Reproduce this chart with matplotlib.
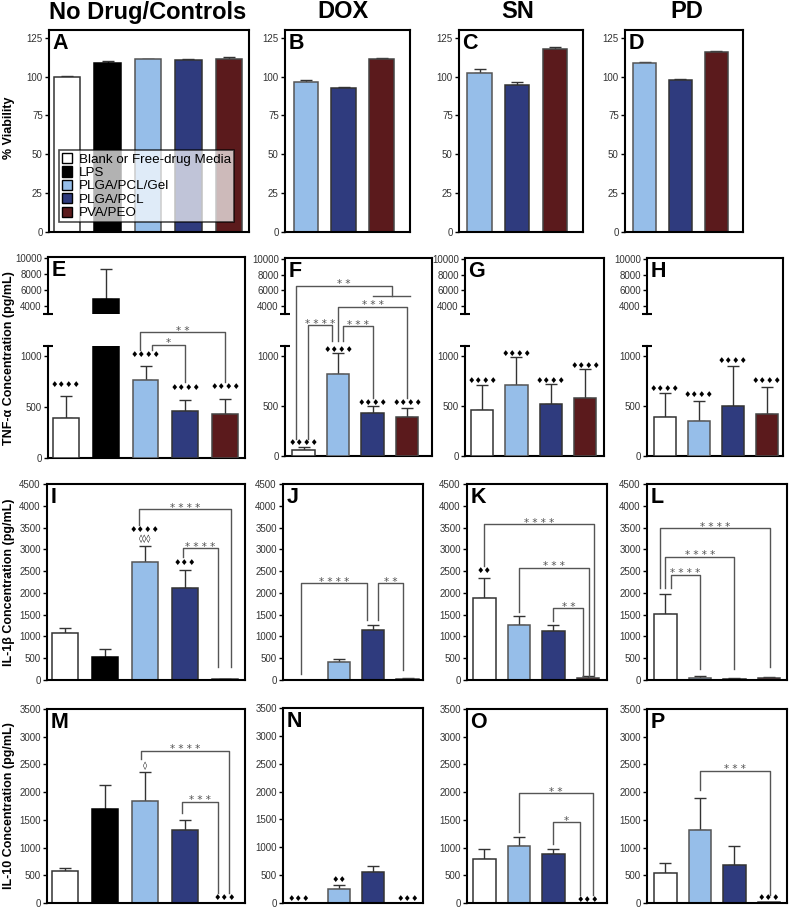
import numpy as np
import matplotlib.pyplot as plt
from matplotlib.patches import Patch

plt.rcParams['font.family'] = ['Liberation Sans', 'DejaVu Sans']

# groups and colours
names = ["Blank or Free-drug Media", "LPS", "PLGA/PCL/Gel", "PLGA/PCL", "PVA/PEO"]
fill = {"Blank": "#ffffff", "LPS": "#000000", "Gel": "#96bee9", "PCL": "#2f3b7e", "PVA": "#5b1a1c"}
edge = {"Blank": "#333333", "LPS": "#000000", "Gel": "#555555", "PCL": "#333333", "PVA": "#444444"}
ctrl_groups = ["Blank", "LPS", "Gel", "PCL", "PVA"]
drug_groups = ["Blank", "Gel", "PCL", "PVA"]
via_groups = ["Gel", "PCL", "PVA"]

# % viability
viab_ctrl = [100.0, 109.0, 111.2, 110.7, 111.2]
viab_ctrl_err = [0.4, 0.9, 0.4, 0.7, 1.2]
viab_dox = [96.8, 92.5, 111.4]
viab_dox_err = [1.3, 0.8, 0.6]
viab_sn = [102.4, 94.6, 117.8]
viab_sn_err = [2.8, 2.2, 1.1]
viab_pd = [109.0, 98.1, 116.1]
viab_pd_err = [0.7, 0.6, 0.6]

# TNF-a (pg/mL)
tnf_ctrl = [389, 4875, 771, 464, 428]
tnf_ctrl_err = [222, 3790, 134, 105, 150]
tnf_dox = [60, 822, 433, 386]
tnf_dox_err = [34, 205, 64, 97]
tnf_sn = [460, 711, 520, 574]
tnf_sn_err = [245, 272, 201, 295]
tnf_pd = [389, 349, 497, 419]
tnf_pd_err = [235, 198, 399, 266]

# IL-1b (pg/mL)
il1b_ctrl = [1087, 517, 2698, 2120, 15]
il1b_ctrl_err = [113, 197, 387, 410, 8]
il1b_dox = [0, 410, 1155, 20]
il1b_dox_err = [0, 80, 105, 15]
il1b_sn = [1890, 1265, 1134, 46]
il1b_sn_err = [448, 201, 131, 39]
il1b_pd = [1505, 46, 30, 46]
il1b_pd_err = [463, 39, 16, 31]

# IL-10 (pg/mL)
il10_ctrl = [573, 1690, 1840, 1308, 0]
il10_ctrl_err = [60, 437, 520, 197, 0]
il10_dox = [0, 260, 550, 0]
il10_dox_err = [0, 60, 110, 0]
il10_sn = [795, 1024, 892, 0]
il10_sn_err = [181, 163, 90, 0]
il10_pd = [536, 1325, 693, 20]
il10_pd_err = [181, 573, 331, 0]

D4, D3, D2, D1, O3, O1 = "♦♦♦♦", "♦♦♦", "♦♦", "♦", "◊◊◊", "◊"

# symbols above bars: (x, text, y)
marks = {
    "E": [(0, D4, 722), (2, D4, 1016), (3, D4, 696), (4, D4, 703)],
    "F": [(0, D4, 138), (1, D4, 1067), (2, D4, 537), (3, D4, 537)],
    "G": [(0, D4, 752), (1, D4, 1020), (2, D4, 758), (3, D4, 906)],
    "H": [(0, D4, 671), (1, D4, 611), (2, D4, 956), (3, D4, 758)],
    "I": [(2, D4, 3450), (2, O3, 3255), (3, D3, 2705)],
    "K": [(0, D2, 2515)],
    "M": [(2, O1, 2473), (4, D3, 96)],
    "N": [(-0.15, D3, 78), (1, D2, 430), (3, D3, 78)],
    "O": [(3, D3, 60)],
    "P": [(3, D3, 96)],
}

# significance brackets: (x left, y left, x right, y right, y top, label)
brackets = {
    "E": [(1.85, 1059, 4, 748, 1235, "**"), (2.17, 1059, 3, 748, 1114, "*")],
    "F": [(-0.21, 171, 2.55, 5300, 6610, "**"), (1, 1144, 3, 574, 3913, "***"),
          (0.13, 171, 0.83, 1144, 1305, "****"), (1.13, 1144, 2, 574, 1292, "***")],
    "I": [(1.86, 3564, 4.14, 296, 3921, "****"), (2.95, 2827, 3.83, 296, 3024, "****")],
    "J": [(-0.1, 140, 1.82, 1373, 2222, "****"), (2.14, 1373, 2.86, 230, 2222, "**")],
    "K": [(0, 2608, 3.17, 77, 3572, "****"), (1, 1566, 3.03, 77, 2577, "***"),
          (2, 1358, 2.87, 77, 1651, "**")],
    "L": [(-0.15, 2107, 3.02, 293, 3480, "****"), (0, 2107, 2, 255, 2824, "****"),
          (0.15, 2107, 1, 255, 2415, "****")],
    "M": [(1.91, 2604, 4.11, 185, 2742, "****"), (2.93, 1619, 3.83, 185, 1828, "***")],
    "O": [(1, 1277, 3.15, 150, 1982, "**"), (2, 1066, 2.76, 150, 1458, "*")],
    "P": [(1, 2030, 3.02, 150, 2386, "***")],
}
group_lines = {"F": [(2.0, 3.08, 5300)]}

W, H = 789, 910
fig = plt.figure(figsize=(W / 100, H / 100), dpi=100)


def add_ax(l, t, r, b):
    return fig.add_axes([l / W, 1 - b / H, (r - l) / W, (b - t) / H])


def style(ax, spines=("left", "bottom", "top", "right")):
    for s in ax.spines:
        ax.spines[s].set_visible(s in spines)
        ax.spines[s].set_linewidth(1.5)
    ax.set_xticks([])
    ax.tick_params(axis="y", labelsize=7, labelcolor="#333333", length=3, width=1, pad=1.5)


def draw_bars(ax, vals, errs, groups):
    x = np.arange(len(vals))
    ax.bar(x, vals, width=0.65, color=[fill[g] for g in groups],
           edgecolor=[edge[g] for g in groups], linewidth=1.1, zorder=2)
    e = np.array(errs, float)
    v = np.array(vals, float)
    m = e > 0
    ax.errorbar(x[m], v[m], yerr=[np.zeros(m.sum()), e[m]], fmt="none", ecolor="#333333",
                elinewidth=1, capsize=4.5, capthick=1, zorder=1)


def letter(ax, s):
    ax.annotate(s, (0, 1), xycoords="axes fraction", xytext=(2.5, -2.5), textcoords="offset points",
                ha="left", va="top", fontsize=15.5, fontweight="bold")


def annotate(ax, key, conv):
    for x, s, y in marks.get(key, []):
        ax.text(x, conv(y), s, ha="center", va="center", fontsize=6, color="k",
                family="DejaVu Sans", clip_on=False)
    for xl, yl, xr, yr, top, lab in brackets.get(key, []):
        ax.plot([xl, xl, xr, xr], [conv(yl), conv(top), conv(top), conv(yr)],
                color="#555555", lw=1, clip_on=False, zorder=5)
        ax.annotate(" ".join(lab), ((xl + xr) / 2, conv(top)), xytext=(0, -2.5),
                    textcoords="offset points", ha="center", va="bottom", fontsize=7.5,
                    family="DejaVu Sans", color="#555555", annotation_clip=False)
    for x1, x2, y in group_lines.get(key, []):
        ax.plot([x1, x2], [conv(y), conv(y)], color="#555555", lw=1, clip_on=False, zorder=5)


def simple_panel(rect, key, vals, errs, groups, ylim, ticks, xlim):
    ax = add_ax(*rect)
    style(ax)
    draw_bars(ax, vals, errs, groups)
    ax.set_ylim(*ylim)
    ax.set_yticks(ticks)
    ax.set_xlim(*xlim)
    letter(ax, key)
    annotate(ax, key, lambda v: v)
    return ax


def tnf_panel(rect, key, vals, errs, groups, xlim):
    l, t, r, b = rect
    h = b - t
    frame = add_ax(l, t, r, b)
    style(frame, ("top", "right", "bottom"))
    frame.set_yticks([])
    hi = add_ax(l, t, r, t + 0.284 * h)
    lo = add_ax(l, b - 0.557 * h, r, b)
    for ax, lim, ticks in [(hi, (3000, 10100), [4000, 6000, 8000, 10000]),
                           (lo, (0, 1100), [0, 500, 1000])]:
        ax.patch.set_visible(False)
        style(ax, ("left",))
        draw_bars(ax, vals, errs, groups)
        ax.set_ylim(*lim)
        ax.set_yticks(ticks)
        ax.set_xlim(*xlim)
    lo.plot([0], [1], marker="_", ms=7, mew=1.5, color="k", transform=lo.transAxes, clip_on=False)
    hi.plot([0], [0], marker="_", ms=7, mew=1.5, color="k", transform=hi.transAxes, clip_on=False)
    letter(frame, key)

    def conv(v):
        if v < 3000:
            return v
        d = hi.transData.transform((0, v))
        return lo.transData.inverted().transform(d)[1]

    annotate(lo, key, conv)


# row 1: viability
a = simple_panel((49, 30, 249, 232), "A", viab_ctrl, viab_ctrl_err, ctrl_groups,
                 (0, 130), range(0, 126, 25), (-0.45, 4.5))
leg = a.legend(handles=[Patch(facecolor=fill[g], edgecolor="k", lw=1) for g in ctrl_groups],
               labels=names, loc="lower left", bbox_to_anchor=(0.05, 0.05), borderaxespad=0,
               fontsize=9.6, fancybox=False, edgecolor="k", framealpha=0.7, borderpad=0.2,
               labelspacing=0.05, handlelength=0.8, handleheight=0.8, handletextpad=0.5)
leg.get_frame().set_linewidth(1.2)
simple_panel((285, 30, 410, 232), "B", viab_dox, viab_dox_err, via_groups,
             (0, 130), range(0, 126, 25), (-0.55, 2.75))
simple_panel((459, 30, 583, 232), "C", viab_sn, viab_sn_err, via_groups,
             (0, 130), range(0, 126, 25), (-0.55, 2.75))
simple_panel((625, 30, 743, 232), "D", viab_pd, viab_pd_err, via_groups,
             (0, 130), range(0, 126, 25), (-0.55, 2.75))

# row 2: TNF-a with broken axis
tnf_panel((48, 257, 245, 458), "E", tnf_ctrl, tnf_ctrl_err, ctrl_groups, (-0.45, 4.5))
tnf_panel((285, 258, 432, 456), "F", tnf_dox, tnf_dox_err, drug_groups, (-0.54, 3.72))
tnf_panel((465, 258, 604, 456), "G", tnf_sn, tnf_sn_err, drug_groups, (-0.5, 3.55))
tnf_panel((647, 258, 783, 456), "H", tnf_pd, tnf_pd_err, drug_groups, (-0.53, 3.47))

# row 3: IL-1b
t3 = range(0, 4501, 500)
simple_panel((47, 484, 245, 680), "I", il1b_ctrl, il1b_ctrl_err, ctrl_groups, (0, 4500), t3, (-0.45, 4.5))
simple_panel((283, 484, 423, 680), "J", il1b_dox, il1b_dox_err, drug_groups, (0, 4500), t3, (-0.62, 3.45))
simple_panel((467, 484, 607, 680), "K", il1b_sn, il1b_sn_err, drug_groups, (0, 4500), t3, (-0.5, 3.55))
simple_panel((647, 484, 787, 680), "L", il1b_pd, il1b_pd_err, drug_groups, (0, 4500), t3, (-0.53, 3.52))

# row 4: IL-10
t4 = range(0, 3501, 500)
simple_panel((47, 709, 245, 903), "M", il10_ctrl, il10_ctrl_err, ctrl_groups, (0, 3500), t4, (-0.45, 4.5))
simple_panel((283, 708, 423, 903), "N", il10_dox, il10_dox_err, drug_groups, (0, 3500), t4, (-0.62, 3.45))
simple_panel((467, 709, 607, 903), "O", il10_sn, il10_sn_err, drug_groups, (0, 3500), t4, (-0.5, 3.55))
simple_panel((647, 709, 787, 903), "P", il10_pd, il10_pd_err, drug_groups, (0, 3500), t4, (-0.53, 3.52))

# column titles
for x, s in [(148, "No Drug/Controls"), (343, "DOX"), (518, "SN"), (687, "PD")]:
    fig.text(x / W, 1 - 12 / H, s, ha="center", va="center", fontsize=17, fontweight="bold")

# row labels
for y, s in [(128, "% Viability"), (358, "TNF-α Concentration (pg/mL)"),
             (582, "IL-1β Concentration (pg/mL)"), (806, "IL-10 Concentration (pg/mL)")]:
    fig.text(9 / W, 1 - y / H, s, ha="center", va="center", rotation=90,
             fontsize=9, fontweight="bold")

fig.savefig("out.png", dpi=100)
